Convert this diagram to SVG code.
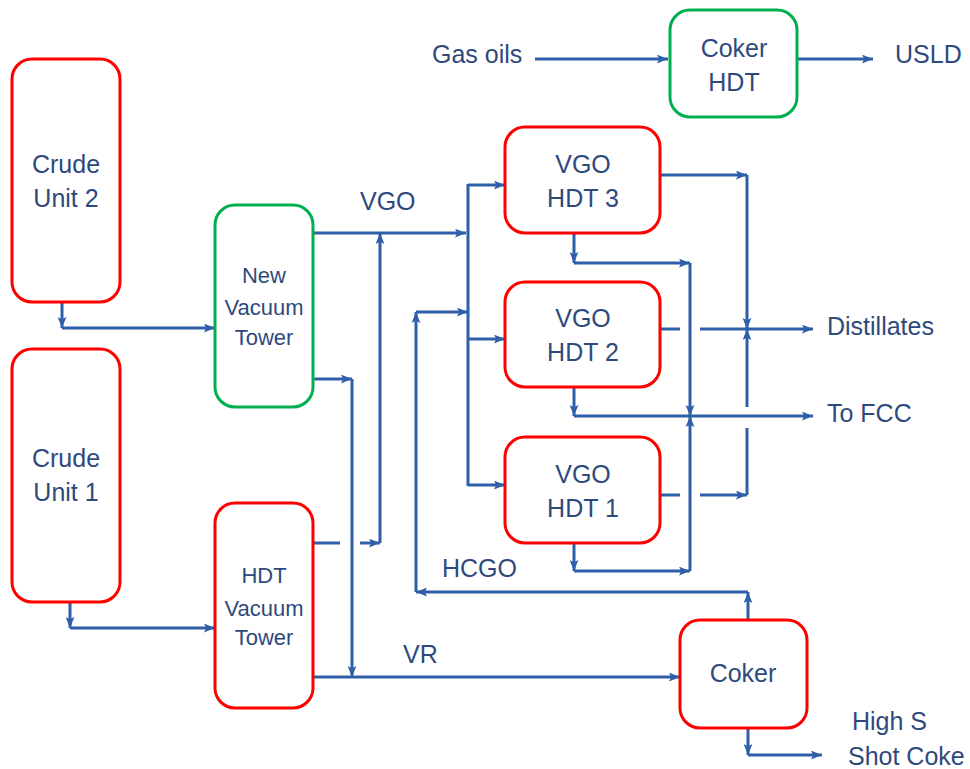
<svg xmlns="http://www.w3.org/2000/svg" width="970" height="769" viewBox="0 0 970 769">
<style>
.box{fill:#fff;stroke-width:3}
.red{stroke:#ff0000}
.green{stroke:#00b050}
.t{font-family:"Liberation Sans",Arial,sans-serif;font-size:25px;fill:#2e4a7d}
.s{font-size:22px}
.c{text-anchor:middle}
.ln{fill:none;stroke:#2f5fa8;stroke-width:3}
.a{marker-end:url(#arr)}
</style>
<defs>
<marker id="arr" viewBox="0 0 10 8" refX="10" refY="4" markerWidth="11" markerHeight="9" markerUnits="userSpaceOnUse" orient="auto">
<path d="M0,0 L10,4 L0,8 L2,4 z" fill="#2f5fa8"/>
</marker>
</defs>
<rect width="970" height="769" fill="#fff"/>
<g id="connectors">
<path class="ln a" d="M535,59 H668"/>
<path class="ln a" d="M797,59 H873"/>
<path class="ln a" d="M62,302 V328"/>
<path class="ln a" d="M62,328 H215"/>
<path class="ln a" d="M70,602 V628"/>
<path class="ln a" d="M70,628 H215"/>
<path class="ln a" d="M313,233 H466"/>
<path class="ln a" d="M313,379 H352"/>
<path class="ln a" d="M352,379 V677"/>
<path class="ln" d="M313,543 H340"/>
<path class="ln a" d="M360,543 H380"/>
<path class="ln a" d="M380,543 V233"/>
<path class="ln a" d="M313,677 H680"/>
<path class="ln" d="M468,184 V486"/>
<path class="ln a" d="M468,185 H505"/>
<path class="ln a" d="M468,339 H505"/>
<path class="ln a" d="M468,485 H505"/>
<path class="ln a" d="M748,620 V592"/>
<path class="ln a" d="M748,592 H416"/>
<path class="ln a" d="M416,592 V312"/>
<path class="ln a" d="M416,312 H468"/>
<path class="ln a" d="M660,175 H747"/>
<path class="ln a" d="M747,175 V329"/>
<path class="ln a" d="M574,233 V263"/>
<path class="ln a" d="M574,263 H690"/>
<path class="ln a" d="M690,263 V416"/>
<path class="ln" d="M660,329 H680"/>
<path class="ln a" d="M700,329 H813"/>
<path class="ln a" d="M574,387 V416"/>
<path class="ln a" d="M574,416 H813"/>
<path class="ln" d="M660,495 H680"/>
<path class="ln a" d="M700,495 H747"/>
<path class="ln" d="M747,495 V428"/>
<path class="ln a" d="M747,407 V329"/>
<path class="ln a" d="M574,543 V571"/>
<path class="ln a" d="M574,571 H690"/>
<path class="ln a" d="M690,571 V416"/>
<path class="ln a" d="M748,728 V755"/>
<path class="ln a" d="M748,755 H822"/>
</g>
<g id="crude2">
<rect class="box red" x="12" y="59" width="108" height="243" rx="20"/>
<text class="t c" x="66" y="173">Crude</text>
<text class="t c" x="66" y="207">Unit 2</text>
</g>
<g id="crude1">
<rect class="box red" x="12" y="349" width="108" height="253" rx="20"/>
<text class="t c" x="66" y="467">Crude</text>
<text class="t c" x="66" y="501">Unit 1</text>
</g>
<g id="newVacuumTower">
<rect class="box green" x="215" y="205" width="98" height="202" rx="20"/>
<text class="t s c" x="264" y="283">New</text>
<text class="t s c" x="264" y="315">Vacuum</text>
<text class="t s c" x="264" y="345">Tower</text>
</g>
<g id="hdtVacuumTower">
<rect class="box red" x="215" y="503" width="98" height="205" rx="20"/>
<text class="t s c" x="264" y="583">HDT</text>
<text class="t s c" x="264" y="616">Vacuum</text>
<text class="t s c" x="264" y="645">Tower</text>
</g>
<g id="cokerHDT">
<rect class="box green" x="670" y="10" width="127" height="107" rx="20"/>
<text class="t c" x="734" y="57">Coker</text>
<text class="t c" x="734" y="91">HDT</text>
</g>
<g id="vgoHDT3">
<rect class="box red" x="505" y="127" width="155" height="106" rx="20"/>
<text class="t c" x="583" y="173">VGO</text>
<text class="t c" x="583" y="207">HDT 3</text>
</g>
<g id="vgoHDT2">
<rect class="box red" x="505" y="282" width="155" height="105" rx="20"/>
<text class="t c" x="583" y="327">VGO</text>
<text class="t c" x="583" y="361">HDT 2</text>
</g>
<g id="vgoHDT1">
<rect class="box red" x="505" y="437" width="155" height="106" rx="20"/>
<text class="t c" x="583" y="483">VGO</text>
<text class="t c" x="583" y="517">HDT 1</text>
</g>
<g id="coker">
<rect class="box red" x="680" y="620" width="127" height="108" rx="20"/>
<text class="t c" x="743" y="682">Coker</text>
</g>
<g id="labels">
<text class="t" x="432" y="63">Gas oils</text>
<text class="t" x="895" y="63">USLD</text>
<text class="t" x="360" y="210">VGO</text>
<text class="t" x="442" y="577">HCGO</text>
<text class="t" x="403" y="663">VR</text>
<text class="t" x="827" y="335">Distillates</text>
<text class="t" x="827" y="422">To FCC</text>
<text class="t" x="852" y="730">High S</text>
<text class="t" x="848" y="765">Shot Coke</text>
</g>
</svg>
